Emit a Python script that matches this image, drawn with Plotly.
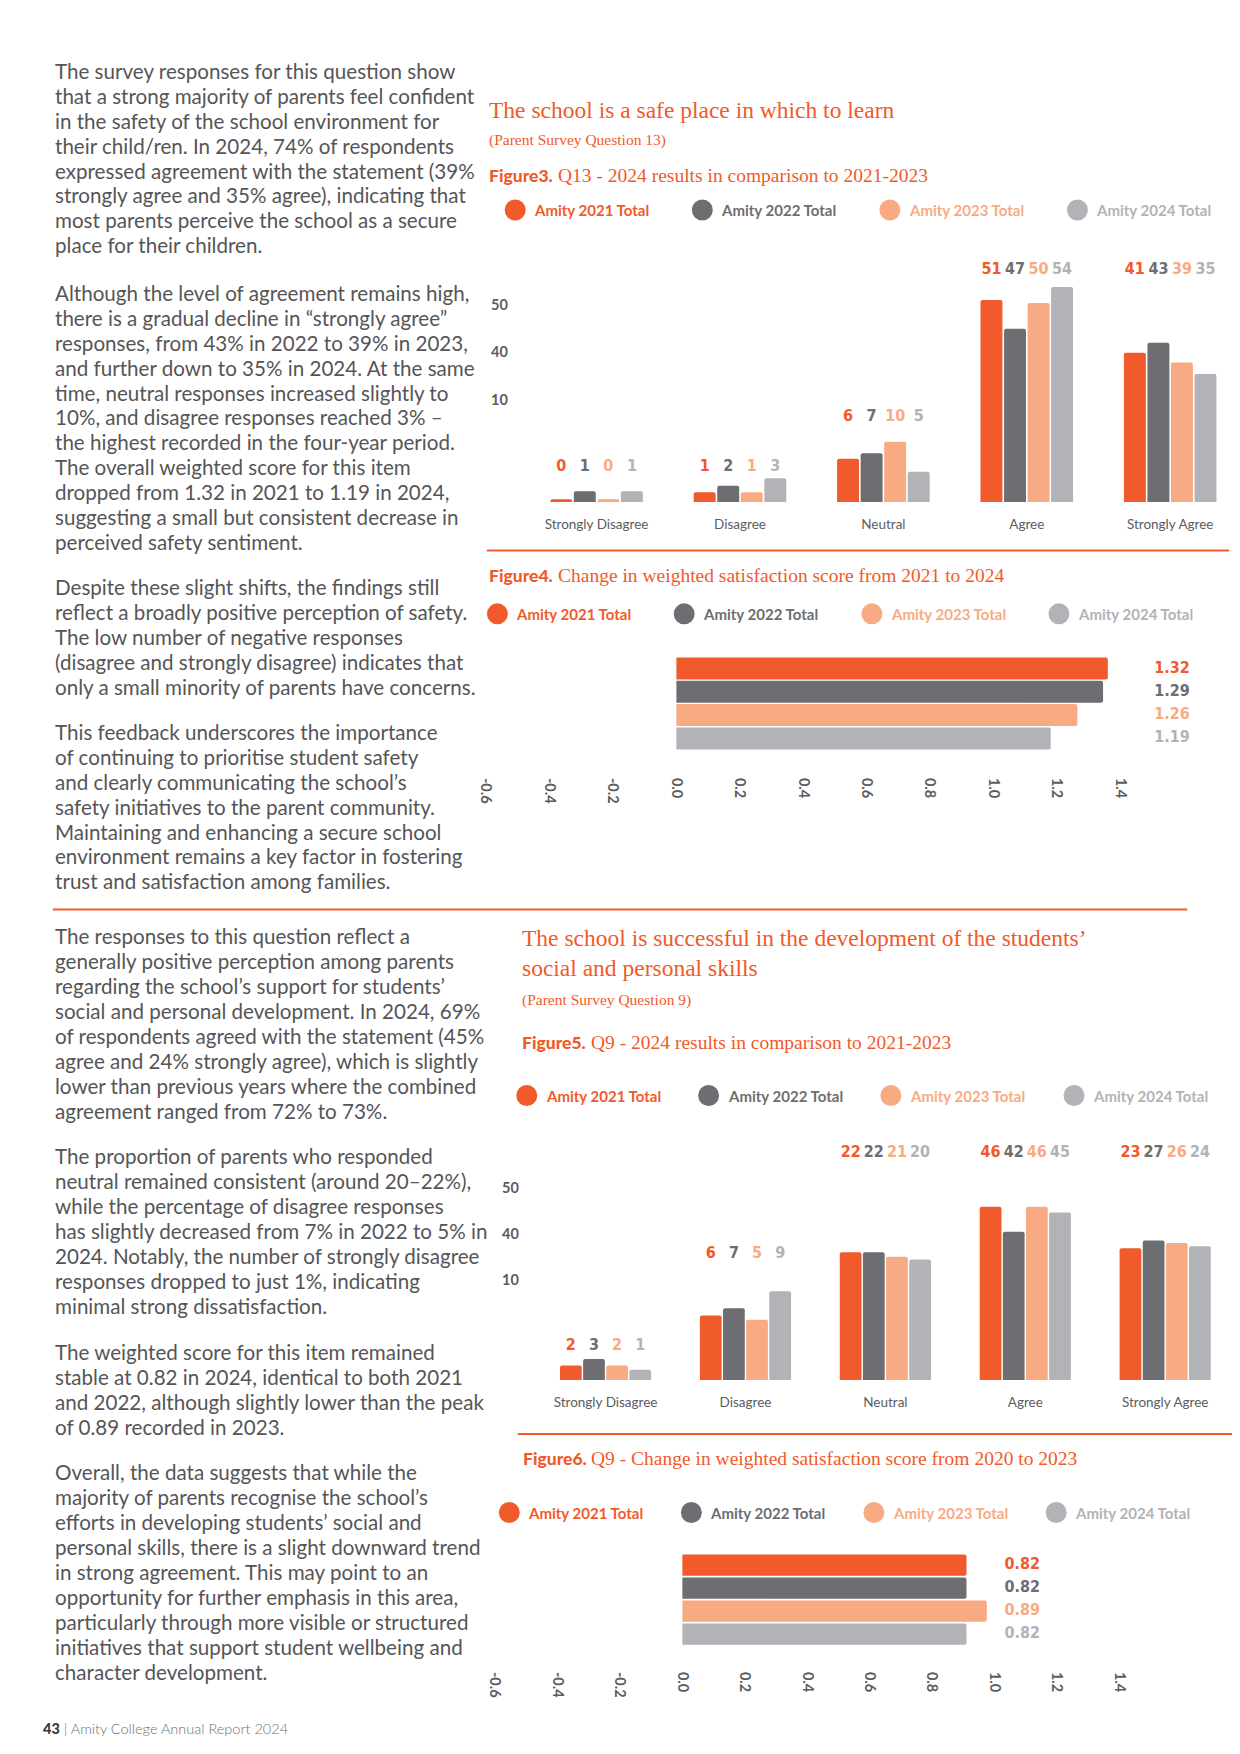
import numpy as np
import plotly.graph_objects as go

W, H = 1240, 1754

# ---------------- data ----------------
series_names = ["Amity 2021 Total", "Amity 2022 Total", "Amity 2023 Total", "Amity 2024 Total"]
colors = ["#F15A2B", "#6D6E71", "#F8AA82", "#B1B3B6"]
categories = ["Strongly Disagree", "Disagree", "Neutral", "Agree", "Strongly Agree"]

# Figure 3 (Q13) - printed percentage labels
q13_pct_2021 = [0, 1, 6, 51, 41]
q13_pct_2022 = [1, 2, 7, 47, 43]
q13_pct_2023 = [0, 1, 10, 50, 39]
q13_pct_2024 = [1, 3, 5, 54, 35]
# Figure 3 (Q13) - bar heights as drawn (axis units where the "50" tick sits at 50)
q13_bar_2021 = [0.7, 2.5, 11.0, 51.3, 37.9]
q13_bar_2022 = [2.7, 4.1, 12.4, 44.0, 40.4]
q13_bar_2023 = [0.7, 2.5, 15.3, 50.5, 35.4]
q13_bar_2024 = [2.7, 6.0, 7.7, 54.6, 32.5]

# Figure 5 (Q9) - printed percentage labels
q9_pct_2021 = [2, 6, 22, 46, 23]
q9_pct_2022 = [3, 7, 22, 42, 27]
q9_pct_2023 = [2, 5, 21, 46, 26]
q9_pct_2024 = [1, 9, 20, 45, 24]
# Figure 5 (Q9) - bar heights as drawn
q9_bar_2021 = [3.8, 16.8, 33.3, 45.1, 34.3]
q9_bar_2022 = [5.5, 18.7, 33.3, 38.6, 36.3]
q9_bar_2023 = [3.8, 15.7, 32.1, 45.1, 35.7]
q9_bar_2024 = [2.7, 23.1, 31.4, 43.6, 34.8]

# y tick labels printed on the column charts
col_tick_vals = [50, 38, 26]
col_tick_text = ["50", "40", "10"]

# Figure 4 (Q13 weighted score) - printed values and bar lengths as drawn
q13_score = [1.32, 1.29, 1.26, 1.19]
q13_score_bar = [1.36, 1.345, 1.264, 1.18]
# Figure 6 (Q9 weighted score)
q9_score = [0.82, 0.82, 0.89, 0.82]
q9_score_bar = [0.91, 0.91, 0.975, 0.91]

score_tick_vals = [-0.6, -0.4, -0.2, 0.0, 0.2, 0.4, 0.6, 0.8, 1.0, 1.2, 1.4]
score_tick_text = ["-0.6", "-0.4", "-0.2", "0.0", "0.2", "0.4", "0.6", "0.8", "1.0", "1.2", "1.4"]

# ---------------- text ----------------
para_a1 = ["The survey responses for this question show",
           "that a strong majority of parents feel confident",
           "in the safety of the school environment for",
           "their child/ren. In 2024, 74% of respondents",
           "expressed agreement with the statement (39%",
           "strongly agree and 35% agree), indicating that",
           "most parents perceive the school as a secure",
           "place for their children."]
para_a2 = ["Although the level of agreement remains high,",
           "there is a gradual decline in \u201cstrongly agree\u201d",
           "responses, from 43% in 2022 to 39% in 2023,",
           "and further down to 35% in 2024. At the same",
           "time, neutral responses increased slightly to",
           "10%, and disagree responses reached 3% \u2013",
           "the highest recorded in the four-year period.",
           "The overall weighted score for this item",
           "dropped from 1.32 in 2021 to 1.19 in 2024,",
           "suggesting a small but consistent decrease in",
           "perceived safety sentiment."]
para_a3 = ["Despite these slight shifts, the findings still",
           "reflect a broadly positive perception of safety.",
           "The low number of negative responses",
           "(disagree and strongly disagree) indicates that",
           "only a small minority of parents have concerns."]
para_a4 = ["This feedback underscores the importance",
           "of continuing to prioritise student safety",
           "and clearly communicating the school\u2019s",
           "safety initiatives to the parent community.",
           "Maintaining and enhancing a secure school",
           "environment remains a key factor in fostering",
           "trust and satisfaction among families."]
para_b1 = ["The responses to this question reflect a",
           "generally positive perception among parents",
           "regarding the school\u2019s support for students\u2019",
           "social and personal development. In 2024, 69%",
           "of respondents agreed with the statement (45%",
           "agree and 24% strongly agree), which is slightly",
           "lower than previous years where the combined",
           "agreement ranged from 72% to 73%."]
para_b2 = ["The proportion of parents who responded",
           "neutral remained consistent (around 20\u201322%),",
           "while the percentage of disagree responses",
           "has slightly decreased from 7% in 2022 to 5% in",
           "2024. Notably, the number of strongly disagree",
           "responses dropped to just 1%, indicating",
           "minimal strong dissatisfaction."]
para_b3 = ["The weighted score for this item remained",
           "stable at 0.82 in 2024, identical to both 2021",
           "and 2022, although slightly lower than the peak",
           "of 0.89 recorded in 2023."]
para_b4 = ["Overall, the data suggests that while the",
           "majority of parents recognise the school\u2019s",
           "efforts in developing students\u2019 social and",
           "personal skills, there is a slight downward trend",
           "in strong agreement. This may point to an",
           "opportunity for further emphasis in this area,",
           "particularly through more visible or structured",
           "initiatives that support student wellbeing and",
           "character development."]

# ---------------- styling ----------------
ORANGE = "#F15A29"
BODY_FONT = "Lato"
SERIF = "Liberation Serif"
NARROW = "DejaVu Sans Condensed, Liberation Sans"
BODY_COLOR = "#555557"
AXIS_COLOR = "#5B5C5F"
BODY_SIZE = 20.6
LINE_PITCH = 24.95


def fx(px):
    return px / W


def fy(py):
    return 1 - py / H


fig = go.Figure()
annotations = []
shapes = []


def text(x, y, s, size, family, color, xanchor="left", yanchor="middle", weight="normal"):
    annotations.append(dict(x=fx(x), y=fy(y), xref="paper", yref="paper", text=s, showarrow=False,
                            xanchor=xanchor, yanchor=yanchor, align="left",
                            font=dict(family=family, size=size, color=color, weight=weight)))


def paragraph(lines, first_baseline):
    # Lato box middle sits ~0.387em above the baseline
    for i, line in enumerate(lines):
        base = first_baseline + i * LINE_PITCH
        text(42, base - 0.387 * BODY_SIZE, line, BODY_SIZE, BODY_FONT, BODY_COLOR)


def hline(x0, x1, y, width=2):
    shapes.append(dict(type="line", xref="paper", yref="paper", x0=fx(x0), x1=fx(x1), y0=fy(y), y1=fy(y),
                       line=dict(color=ORANGE, width=width)))


def legend_row(cy, cxs):
    for k, cx in enumerate(cxs):
        r = 10.5
        shapes.append(dict(type="circle", xref="paper", yref="paper", x0=fx(cx - r), x1=fx(cx + r),
                           y0=fy(cy + r), y1=fy(cy - r), fillcolor=colors[k], line=dict(width=0)))
        text(cx + 17, cy, series_names[k], 15, BODY_FONT, colors[k], weight="bold")


def fig_title(x_fig, x_rest, y, label, rest):
    text(x_fig, y, label, 17.5, BODY_FONT, ORANGE, weight=900)
    text(x_rest, y, rest, 19.5, SERIF, ORANGE)


layout_axes = {}


def column_chart(n, g, bars, pcts):
    xa, ya = f"x{n}", f"y{n}"
    idx = np.arange(len(categories))
    for k in range(4):
        xs = idx + (k - 1.5) * g["pitch"] / g["dx"]
        fig.add_trace(go.Bar(x=xs, y=bars[k], width=g["bw"] / g["dx"],
                             marker=dict(color=colors[k], line=dict(width=0)),
                             xaxis=xa, yaxis=ya, hoverinfo="skip", showlegend=False))
        fig.add_trace(go.Scatter(x=xs, y=g["label_y"], mode="text", text=[str(v) for v in pcts[k]],
                                 textposition="middle center",
                                 textfont=dict(family=NARROW, size=16, color=colors[k], weight="bold"),
                                 cliponaxis=False, xaxis=xa, yaxis=ya, hoverinfo="skip", showlegend=False))
    layout_axes[f"xaxis{n}"] = dict(domain=[fx(g["left"]), fx(g["right"])], anchor=ya,
                                    range=[(g["left"] - g["x0"]) / g["dx"], (g["right"] - g["x0"]) / g["dx"]],
                                    tickvals=list(idx), ticktext=categories, showgrid=False, zeroline=False,
                                    showline=False, ticks="outside", ticklen=10, tickcolor="rgba(0,0,0,0)",
                                    tickfont=dict(family=BODY_FONT, size=13.5, color=AXIS_COLOR), fixedrange=True)
    layout_axes[f"yaxis{n}"] = dict(domain=[fy(g["base"]), fy(g["top"])], anchor=xa,
                                    range=[0, (g["base"] - g["top"]) / g["unit"]],
                                    tickvals=col_tick_vals, ticktext=col_tick_text, showgrid=False,
                                    zeroline=False, showline=False, ticks="outside", ticklen=4,
                                    tickcolor="rgba(0,0,0,0)",
                                    tickfont=dict(family=BODY_FONT, size=14.5, color=AXIS_COLOR, weight="bold"),
                                    fixedrange=True)


def score_chart(n, g, bar_len, scores):
    xa, ya = f"x{n}", f"y{n}"
    idx = np.arange(len(scores))
    fig.add_trace(go.Bar(x=bar_len, y=idx, orientation="h", width=g["bh"] / g["pitch"],
                         marker=dict(color=colors, line=dict(width=0)),
                         xaxis=xa, yaxis=ya, hoverinfo="skip", showlegend=False))
    fig.add_trace(go.Scatter(x=[(g["label_x"] - g["x0"]) / g["unit"]] * len(scores), y=idx, mode="text",
                             text=[f"{s:.2f}" for s in scores], textposition="middle right",
                             textfont=dict(family=NARROW, size=16, color=colors, weight="bold"),
                             cliponaxis=False, xaxis=xa, yaxis=ya, hoverinfo="skip", showlegend=False))
    layout_axes[f"xaxis{n}"] = dict(domain=[fx(g["left"]), fx(g["right"])], anchor=ya,
                                    range=[(g["left"] - g["x0"]) / g["unit"], (g["right"] - g["x0"]) / g["unit"]],
                                    tickvals=score_tick_vals, ticktext=score_tick_text, tickangle=90,
                                    showgrid=False, zeroline=False, showline=False, ticks="outside", ticklen=2,
                                    tickcolor="rgba(0,0,0,0)",
                                    tickfont=dict(family=BODY_FONT, size=14.5, color=AXIS_COLOR, weight="bold"),
                                    fixedrange=True)
    layout_axes[f"yaxis{n}"] = dict(domain=[fy(g["bottom"]), fy(g["top"])], anchor=xa,
                                    range=[(g["bottom"] - g["y0"]) / g["pitch"], (g["top"] - g["y0"]) / g["pitch"]],
                                    showticklabels=False, showgrid=False, zeroline=False, showline=False,
                                    fixedrange=True)


# geometry (pixels on the page)
geo3 = dict(x0=587, dx=143.75, base=494, unit=3.94, left=506, right=1230, top=250, bw=22, pitch=23.6,
            label_y=[8.9, 8.9, 21.5, 59, 59])
geo5 = dict(x0=596, dx=140.25, base=1372, unit=3.84, left=517, right=1232, top=1130, bw=21.8, pitch=23.2,
            label_y=[8.75, 32.7, 59, 59, 59])
geo4 = dict(x0=667, unit=318, left=470, right=1180, y0=660.5, pitch=23.3, top=640, bottom=764, bh=22,
            label_x=1146)
geo6 = dict(x0=673, unit=313, left=480, right=1180, y0=1557.2, pitch=22.95, top=1535, bottom=1658, bh=21.3,
            label_x=996)

column_chart(1, geo3, [q13_bar_2021, q13_bar_2022, q13_bar_2023, q13_bar_2024],
             [q13_pct_2021, q13_pct_2022, q13_pct_2023, q13_pct_2024])
score_chart(2, geo4, q13_score_bar, q13_score)
column_chart(3, geo5, [q9_bar_2021, q9_bar_2022, q9_bar_2023, q9_bar_2024],
             [q9_pct_2021, q9_pct_2022, q9_pct_2023, q9_pct_2024])
score_chart(4, geo6, q9_score_bar, q9_score)

# ---------------- page text ----------------
for lines, base in [(para_a1, 70.7), (para_a2, 292.7), (para_a3, 586.7), (para_a4, 731.7),
                    (para_b1, 936.2), (para_b2, 1156.3), (para_b3, 1351.7), (para_b4, 1472.4)]:
    paragraph(lines, base)

# top right section
text(477, 101.5, "The school is a safe place in which to learn", 23.5, SERIF, ORANGE)
text(477, 131.5, "(Parent Survey Question 13)", 15.5, SERIF, ORANGE)
fig_title(477, 546, 167.5, "Figure3.", "Q13 - 2024 results in comparison to 2021-2023")
legend_row(202, [505.4, 693, 881, 1069])
hline(477, 1221, 542.5)
fig_title(477, 546, 567.5, "Figure4.", "Change in weighted satisfaction score from 2021 to 2024")
legend_row(605.8, [487.6, 674.8, 863, 1050.5])

# separator
hline(42, 1179, 901.5)

# lower right section
text(510, 930, "The school is successful in the development of the students\u2019", 23.5, SERIF, ORANGE)
text(510, 960, "social and personal skills", 23.5, SERIF, ORANGE)
text(510, 992.5, "(Parent Survey Question 9)", 15.5, SERIF, ORANGE)
fig_title(510, 579.5, 1034, "Figure5.", "Q9 - 2024 results in comparison to 2021-2023")
legend_row(1087.5, [517, 699.3, 882, 1065.6])
hline(508, 1228, 1426)
fig_title(511.5, 579, 1450.5, "Figure6.", "Q9 - Change in weighted satisfaction score from 2020 to 2023")
legend_row(1504.5, [499.5, 682, 865, 1047.7])

# footer
text(30, 1720, "<span style=\"color:#3A3A3C;font-weight:900\">43</span> | Amity College Annual Report 2024",
     14.5, BODY_FONT, "#6D6E71", weight=300)

fig.update_layout(width=W, height=H, margin=dict(l=0, r=0, t=0, b=0), paper_bgcolor="white",
                  plot_bgcolor="white", barmode="overlay", barcornerradius=2, showlegend=False,
                  hovermode=False, annotations=annotations, shapes=shapes, **layout_axes)

fig.write_html("out.html")
